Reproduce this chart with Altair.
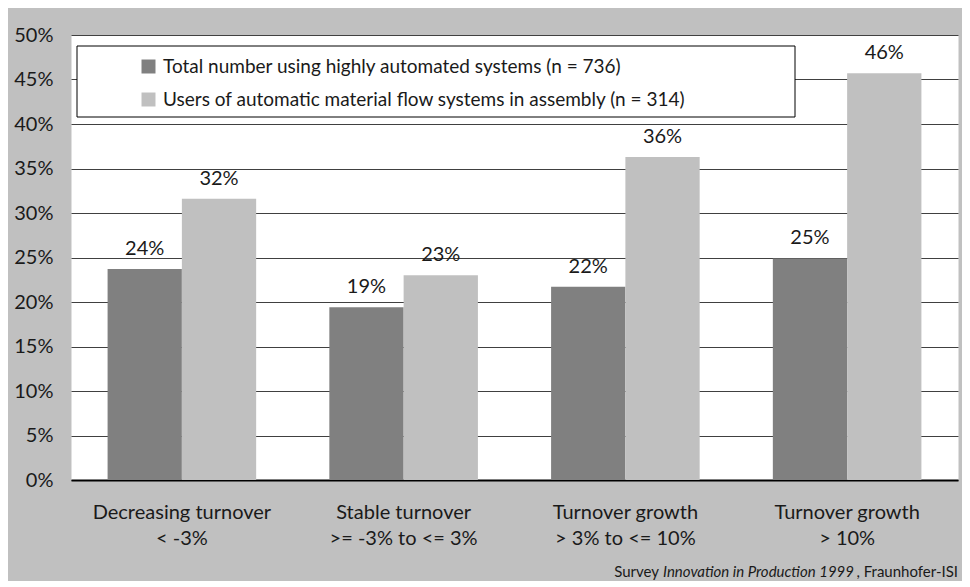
import altair as alt
import pandas as pd

categories = [
    "Decreasing turnover\n< -3%",
    "Stable turnover\n>= -3% to <= 3%",
    "Turnover growth\n> 3% to <= 10%",
    "Turnover growth\n> 10%",
]
series = [
    "Total number using highly automated systems (n = 736)",
    "Users of automatic material flow systems in assembly (n = 314)",
]
total_values = [23.7, 19.4, 21.7, 24.9]
users_values = [31.6, 23.0, 36.3, 45.7]
y_ticks = [0, 5, 10, 15, 20, 25, 30, 35, 40, 45, 50]
colors = ["#808080", "#c0c0c0"]

rows = []
for c, v in zip(categories, total_values):
    rows.append({"category": c, "series": series[0], "value": v})
for c, v in zip(categories, users_values):
    rows.append({"category": c, "series": series[1], "value": v})
df = pd.DataFrame(rows)
df["label"] = df["value"].round().astype(int).astype(str) + "%"

FONT = "Lato"
TXT = "#1a1a1a"
W = 887
H = 445

x_enc = alt.X(
    "category:N",
    sort=categories,
    scale=alt.Scale(paddingInner=0.33, paddingOuter=0.165),
    axis=alt.Axis(
        title=None,
        labelAngle=0,
        labelExpr="split(datum.label, '\\n')",
        labelFontSize=20,
        labelLineHeight=26,
        labelPadding=22,
        labelColor=TXT,
        labelFont=FONT,
        ticks=False,
        domainColor="#000000",
        domainWidth=2,
        grid=False,
    ),
)
xoff_enc = alt.XOffset("series:N", sort=series, scale=alt.Scale(paddingInner=0, paddingOuter=0))
y_enc = alt.Y(
    "value:Q",
    scale=alt.Scale(domain=[0, 50], nice=False),
    axis=alt.Axis(
        title=None,
        values=y_ticks,
        labelExpr="datum.value + '%'",
        labelFontSize=20,
        labelFont=FONT,
        labelColor=TXT,
        labelPadding=18,
        ticks=False,
        domain=False,
        gridColor="#404040",
        gridWidth=1,
        gridOpacity=1,
    ),
)

box = alt.Chart(pd.DataFrame({"k": [0]})).mark_rect(
    fill="white", stroke="#000000", strokeWidth=1
).encode(
    x=alt.value(6), x2=alt.value(724), y=alt.value(11), y2=alt.value(82)
)

bars = alt.Chart(df).mark_bar().encode(
    x=x_enc,
    xOffset=xoff_enc,
    y=y_enc,
    color=alt.Color(
        "series:N",
        sort=series,
        scale=alt.Scale(domain=series, range=colors),
        legend=alt.Legend(
            title=None,
            orient="none",
            legendX=68,
            legendY=22,
            padding=0,
            labelFontSize=19,
            labelFont=FONT,
            labelColor=TXT,
            labelLimit=900,
            symbolType="square",
            symbolSize=196,
            symbolStrokeWidth=0,
            rowPadding=13,
            labelOffset=5,
        ),
    ),
)

labels = alt.Chart(df).mark_text(
    fontSize=20, font=FONT, color=TXT, baseline="bottom", dy=-10
).encode(
    x=alt.X("category:N", sort=categories),
    xOffset=alt.XOffset("series:N", sort=series),
    y=alt.Y("value:Q"),
    text="label:N",
)

FY = 542
foot_df = pd.DataFrame({"k": [0]})
foot1 = alt.Chart(foot_df).mark_text(
    text="Survey", fontSize=15, font=FONT, color=TXT, align="right", baseline="alphabetic"
).encode(x=alt.value(588), y=alt.value(FY))
foot2 = alt.Chart(foot_df).mark_text(
    text="Innovation in Production 1999", fontSize=15, font=FONT, fontStyle="italic",
    color=TXT, align="right", baseline="alphabetic"
).encode(x=alt.value(783), y=alt.value(FY))
foot3 = alt.Chart(foot_df).mark_text(
    text=" , Fraunhofer-ISI", fontSize=15, font=FONT, color=TXT, align="right", baseline="alphabetic"
).encode(x=alt.value(W), y=alt.value(FY))

chart = alt.layer(box, bars, labels, foot1, foot2, foot3).properties(
    width=W,
    height=H,
    background="#c0c0c0",
    autosize=alt.AutoSizeParams(type="none"),
    padding={"left": 63, "top": 27, "right": 4, "bottom": 101},
).configure_view(fill="white", strokeOpacity=0)

chart.save("out.html", embed_options={"renderer": "svg", "actions": False})
